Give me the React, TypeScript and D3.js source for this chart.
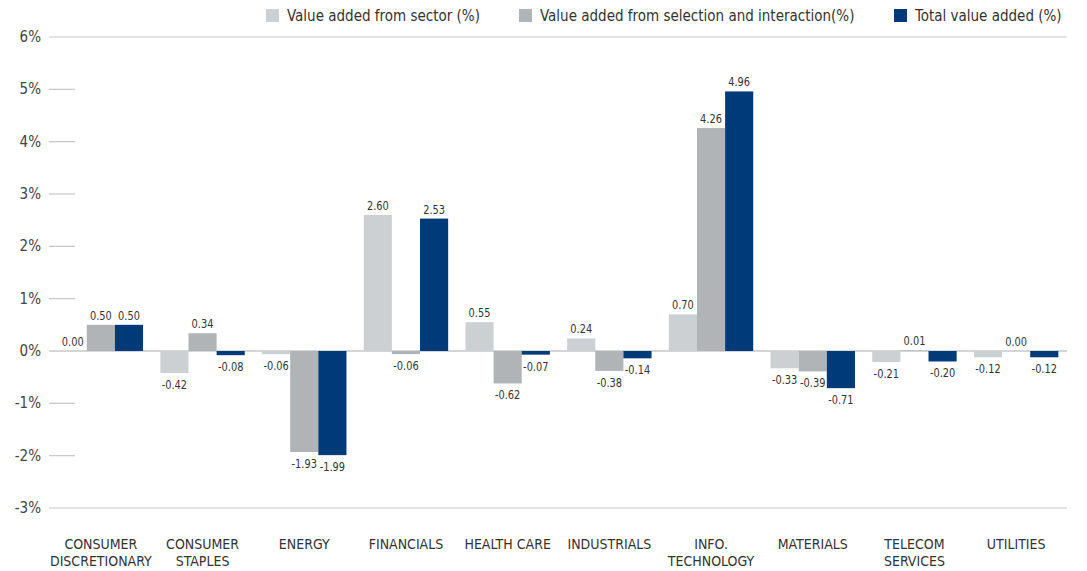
import React from "react";
import * as d3 from "d3";

const categories: string[][] = [
  ["CONSUMER", "DISCRETIONARY"],
  ["CONSUMER", "STAPLES"],
  ["ENERGY"],
  ["FINANCIALS"],
  ["HEALTH CARE"],
  ["INDUSTRIALS"],
  ["INFO.", "TECHNOLOGY"],
  ["MATERIALS"],
  ["TELECOM", "SERVICES"],
  ["UTILITIES"],
];
const sectorValues = [0.0, -0.42, -0.06, 2.6, 0.55, 0.24, 0.7, -0.33, -0.21, -0.12];
const selectionValues = [0.5, 0.34, -1.93, -0.06, -0.62, -0.38, 4.26, -0.39, 0.01, 0.0];
const totalValues = [0.5, -0.08, -1.99, 2.53, -0.07, -0.14, 4.96, -0.71, -0.2, -0.12];
const seriesNames = [
  "Value added from sector (%)",
  "Value added from selection and interaction(%)",
  "Total value added (%)",
];
const yTicks = [-3, -2, -1, 0, 1, 2, 3, 4, 5, 6];

const colors = ["#cdd0d3", "#b1b4b7", "#003a78"];
const FONT = "'Liberation Sans Narrow', 'DejaVu Sans Condensed', 'Arial Narrow', sans-serif";

export default function App() {
  const W = 1087;
  const H = 571;
  const left = 50;
  const right = 1067;
  const y = d3.scaleLinear().domain([-3, 6]).range([508, 37]);
  const x0 = d3
    .scaleBand<number>()
    .domain(categories.map((_, i) => i))
    .range([left, right])
    .paddingInner(0.17)
    .paddingOuter(0.085);
  const x1 = d3.scaleBand<number>().domain([0, 1, 2]).range([0, x0.bandwidth()]);
  const series = [sectorValues, selectionValues, totalValues];

  const legendX = [266, 519, 894];

  return (
    <svg
      width={W}
      height={H}
      style={{ position: "absolute", left: 0, top: 0, background: "#fff" }}
      fontFamily={FONT}
    >
      {/* legend */}
      {seriesNames.map((n, i) => (
        <g key={n} transform={`translate(${legendX[i]},0)`}>
          <rect x={0} y={9} width={13} height={13} fill={colors[i]} />
          <text x={21} y={21} fontSize={15} fill="#333">
            {n}
          </text>
        </g>
      ))}
      {/* y axis */}
      {yTicks.map((t) => {
        const full = t === 6 || t === -3 || t === 0;
        return (
          <g key={t}>
            <line
              x1={left - 1}
              x2={full ? right : left + 25}
              y1={y(t)}
              y2={y(t)}
              stroke="#c4c7ca"
              strokeWidth={t === 0 ? 1.5 : 1.2}
            />
            <text x={41} y={y(t) + 5} fontSize={15} fill="#444" textAnchor="end">
              {`${t}%`}
            </text>
          </g>
        );
      })}
      {/* bars */}
      {categories.map((c, ci) => (
        <g key={ci} transform={`translate(${x0(ci)},0)`}>
          {series.map((vals, si) => {
            const v = vals[ci];
            const bx = x1(si)!;
            const bw = x1.bandwidth();
            const top = y(Math.max(0, v));
            const h = Math.abs(y(v) - y(0));
            const neg = v < 0;
            const ly = neg ? y(v) + 16 : y(v) - 5;
            return (
              <g key={si}>
                <rect x={bx} y={top} width={bw} height={h} fill={colors[si]} />
                <text
                  transform={`translate(${bx + bw / 2},${ly}) scale(0.84,1)`}
                  fontSize={13}
                  fill="#333"
                  textAnchor="middle"
                >
                  {v.toFixed(2)}
                </text>
              </g>
            );
          })}
        </g>
      ))}
      {/* category labels */}
      {categories.map((c, ci) => (
        <text
          key={ci}
          x={x0(ci)! + x0.bandwidth() / 2}
          textAnchor="middle"
          fontSize={14}
          fill="#333"
        >
          {c.map((line, li) => (
            <tspan key={li} x={x0(ci)! + x0.bandwidth() / 2} y={549 + li * 17}>
              {line}
            </tspan>
          ))}
        </text>
      ))}
    </svg>
  );
}
